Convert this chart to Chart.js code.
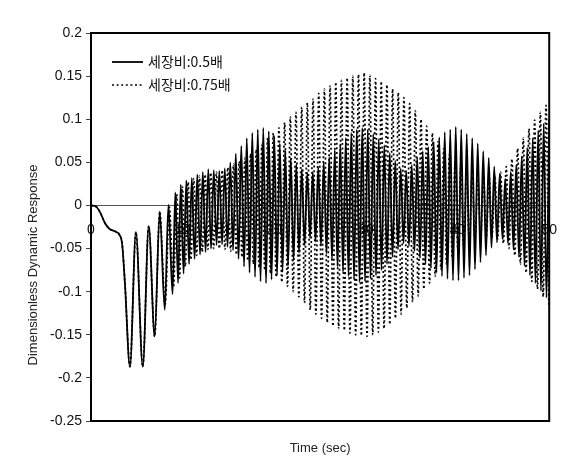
<!DOCTYPE html>
<html>
<head>
<meta charset="utf-8">
<script src="https://cdn.jsdelivr.net/npm/chart.js@4.4.1/dist/chart.umd.min.js"></script>
<style>
    html, body { margin: 0; padding: 0; background: #fff; }
    #wrap { width: 573px; height: 459px; }
</style>
</head>
<body>
<div id="wrap"><canvas id="responseChart" width="573" height="459"></canvas></div>
<script>
// ── Values ──
const seriesNames = ['세장비:0.5배', '세장비:0.75배'];
const xTicks = [0, 10, 20, 30, 40, 50];
const yTicks = [0.2, 0.15, 0.1, 0.05, 0, -0.05, -0.1, -0.15, -0.2, -0.25];

// start-up transient, both curves lie on top of each other here
const startTime  = [0, 0.5, 1.0, 1.5, 2.0, 2.6, 3.1, 3.4, 3.7, 4.25, 4.9, 5.65, 6.3, 6.95, 7.5];
const startValue = [0, -0.001, -0.008, -0.02, -0.027, -0.030, -0.034, -0.045, -0.09, -0.187, -0.031, -0.187, -0.024, -0.152, -0.007];

// 0.5배 : lead-in, then crest / trough values every half period
const solidLeadTime  = [8.05, 8.45, 8.9];
const solidLeadValue = [-0.121, 0.001, -0.103];
const solidFirstCrest = 9.2;
const solidHalfPeriod = 0.3;
const solidCrests = [
    0.015, 0.024, 0.029, 0.032, 0.036, 0.039, 0.042, 0.041, 0.040, 0.043,
    0.050, 0.060, 0.069, 0.078, 0.084, 0.088, 0.090, 0.086, 0.080, 0.072,
    0.064, 0.055, 0.048, 0.042, 0.038, 0.039, 0.044, 0.050, 0.056, 0.064,
    0.071, 0.078, 0.084, 0.088, 0.090, 0.088, 0.083, 0.077, 0.070, 0.061,
    0.052, 0.043, 0.040, 0.047, 0.056, 0.063, 0.068, 0.074, 0.079, 0.085,
    0.088, 0.091, 0.088, 0.083, 0.078, 0.072, 0.063, 0.055, 0.045, 0.037,
    0.031, 0.039, 0.047, 0.057, 0.067, 0.078, 0.087, 0.095, 0.100
];
const solidTroughs = [
    -0.090, -0.079, -0.068, -0.062, -0.057, -0.054, -0.050, -0.046, -0.045, -0.048,
    -0.052, -0.062, -0.071, -0.078, -0.083, -0.088, -0.090, -0.086, -0.081, -0.076,
    -0.070, -0.064, -0.055, -0.046, -0.038, -0.042, -0.047, -0.056, -0.063, -0.071,
    -0.077, -0.082, -0.086, -0.089, -0.088, -0.085, -0.081, -0.075, -0.068, -0.060,
    -0.051, -0.044, -0.047, -0.053, -0.061, -0.068, -0.073, -0.078, -0.082, -0.085,
    -0.087, -0.087, -0.084, -0.081, -0.074, -0.066, -0.058, -0.049, -0.043, -0.039,
    -0.044, -0.051, -0.060, -0.070, -0.081, -0.090, -0.099, -0.107
];

// 0.75배
const dotLeadTime  = [8.1, 8.55, 9.0];
const dotLeadValue = [-0.115, -0.002, -0.095];
const dotFirstCrest = 9.35;
const dotHalfPeriod = 0.31;
const dotCrests = [
    0.013, 0.022, 0.027, 0.031, 0.034, 0.036, 0.038, 0.039, 0.041, 0.044,
    0.048, 0.051, 0.055, 0.060, 0.065, 0.071, 0.078, 0.084, 0.090, 0.096,
    0.103, 0.108, 0.114, 0.119, 0.124, 0.130, 0.135, 0.139, 0.143, 0.145,
    0.148, 0.150, 0.152, 0.154, 0.151, 0.147, 0.144, 0.140, 0.135, 0.131,
    0.125, 0.118, 0.110, 0.100, 0.092, 0.084, 0.074, 0.066, 0.059, 0.051,
    0.044, 0.038, 0.034, 0.031, 0.031, 0.033, 0.035, 0.039, 0.045, 0.054,
    0.066, 0.078, 0.089, 0.099, 0.108, 0.116
];
const dotTroughs = [
    -0.084, -0.071, -0.063, -0.058, -0.054, -0.051, -0.050, -0.050, -0.051, -0.053,
    -0.057, -0.060, -0.064, -0.068, -0.072, -0.075, -0.079, -0.083, -0.089, -0.094,
    -0.100, -0.106, -0.113, -0.121, -0.126, -0.131, -0.136, -0.140, -0.143, -0.145,
    -0.148, -0.150, -0.151, -0.152, -0.150, -0.147, -0.143, -0.138, -0.131, -0.126,
    -0.119, -0.112, -0.105, -0.097, -0.090, -0.082, -0.074, -0.068, -0.061, -0.053,
    -0.048, -0.043, -0.040, -0.037, -0.036, -0.037, -0.039, -0.044, -0.050, -0.058,
    -0.068, -0.078, -0.088, -0.097, -0.106, -0.117
];

// join transient + lead-in + alternating crests/troughs into one point list
function buildSeries(leadT, leadY, crests, troughs, t0, half) {
    const pts = startTime.map((t, i) => ({ x: t, y: startValue[i] }));
    leadT.forEach((t, i) => pts.push({ x: t, y: leadY[i] }));
    const n = Math.max(crests.length, troughs.length);
    for (let i = 0; i < n; i++) {
        if (i < crests.length) pts.push({ x: +(t0 + 2 * i * half).toFixed(2), y: crests[i] });
        if (i < troughs.length) pts.push({ x: +(t0 + (2 * i + 1) * half).toFixed(2), y: troughs[i] });
    }
    return pts;
}

const solidPoints = buildSeries(solidLeadTime, solidLeadValue, solidCrests, solidTroughs, solidFirstCrest, solidHalfPeriod);
const dotPoints = buildSeries(dotLeadTime, dotLeadValue, dotCrests, dotTroughs, dotFirstCrest, dotHalfPeriod);

Chart.defaults.font.family = "'Liberation Sans', Arial, sans-serif";
Chart.defaults.font.size = 13;
Chart.defaults.color = '#222';

// frame, rotated y title and the little legend in the upper left
const figureBits = {
    id: 'figureBits',
    afterDraw(chart) {
        const { ctx, chartArea: a } = chart;
        ctx.save();
        ctx.strokeStyle = '#000';
        ctx.lineWidth = 2;
        ctx.strokeRect(a.left, a.top, a.right - a.left, a.bottom - a.top);

        ctx.fillStyle = '#222';
        ctx.font = "13px 'Liberation Sans', Arial, sans-serif";
        ctx.textAlign = 'center';
        ctx.textBaseline = 'middle';
        ctx.translate(33, 265);
        ctx.rotate(-Math.PI / 2);
        ctx.fillText('Dimensionless Dynamic Response', 0, 0);
        ctx.restore();

        ctx.save();
        chart.data.datasets.forEach((ds, i) => {
            const y = a.top + 29 + i * 23;
            ctx.strokeStyle = ds.borderColor;
            ctx.lineWidth = ds.borderWidth;
            ctx.setLineDash(ds.borderDash || []);
            ctx.beginPath();
            ctx.moveTo(a.left + 21, y);
            ctx.lineTo(a.left + 52, y);
            ctx.stroke();
            ctx.fillStyle = '#111';
            ctx.font = "14px 'Noto Sans CJK KR', sans-serif";
            ctx.textAlign = 'left';
            ctx.textBaseline = 'middle';
            ctx.fillText(ds.label, a.left + 57, y);
        });
        ctx.restore();
    }
};

new Chart(document.getElementById('responseChart'), {
    type: 'line',
    data: {
        datasets: [{
            label: seriesNames[0],
            data: solidPoints,
            borderColor: '#000',
            borderWidth: 1.8,
            pointRadius: 0,
            cubicInterpolationMode: 'monotone'
        }, {
            label: seriesNames[1],
            data: dotPoints,
            borderColor: '#000',
            borderWidth: 1.7,
            borderDash: [2, 2.6],
            pointRadius: 0,
            cubicInterpolationMode: 'monotone'
        }]
    },
    options: {
        responsive: false,
        animation: false,
        events: [],
        layout: { padding: { left: 0, top: 33, right: 22, bottom: 0 } },
        plugins: {
            legend: { display: false },
            tooltip: { enabled: false }
        },
        scales: {
            x: {
                type: 'linear',
                min: 0,
                max: 50,
                ticks: { display: false },
                grid: { display: false },
                border: { display: false },
                title: {
                    display: true,
                    text: 'Time (sec)',
                    font: { size: 13 },
                    padding: { top: 0, bottom: 3 }
                },
                afterFit: (scale) => { scale.height = 38; }
            },
            xz: {
                type: 'linear',
                position: { y: 0 },
                min: 0,
                max: 50,
                afterBuildTicks: (scale) => { scale.ticks = xTicks.map(v => ({ value: v })); },
                ticks: { padding: 16, font: { size: 14 }, color: '#111' },
                grid: { drawOnChartArea: false, drawTicks: false },
                border: { color: '#555', width: 1 }
            },
            y: {
                min: -0.25,
                max: 0.2,
                afterBuildTicks: (scale) => { scale.ticks = yTicks.map(v => ({ value: v })); },
                ticks: {
                    padding: 4,
                    font: { size: 14 },
                    color: '#111',
                    callback: (v) => String(+v.toFixed(2))
                },
                grid: { drawOnChartArea: false, tickLength: 5, color: '#444' },
                border: { color: '#000', width: 2 },
                afterFit: (scale) => { scale.width = 91; }
            }
        }
    },
    plugins: [figureBits]
});
</script>
</body>
</html>
